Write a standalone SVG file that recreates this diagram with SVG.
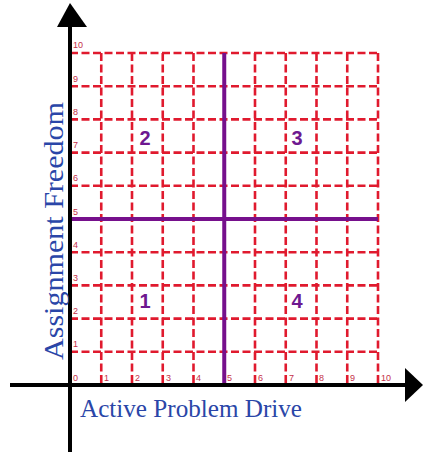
<svg xmlns="http://www.w3.org/2000/svg" width="423" height="452" viewBox="0 0 423 452">
<style>
.grid{stroke:#E01A2E;stroke-width:2.6;stroke-dasharray:8 3.5;fill:none}
.quad{stroke:#76108C;stroke-width:4;fill:none}
.axis{stroke:#000;stroke-width:4;fill:none}
.tick{font-family:"Liberation Sans",Arial,sans-serif;font-size:9px;fill:#C4304A}
.num{font-family:"Liberation Sans",Arial,sans-serif;font-size:20px;font-weight:bold;fill:#6E1890}
.lbl{font-family:"Liberation Serif","Times New Roman",serif;fill:#2A46A8}
</style>
<rect width="423" height="452" fill="#fff"/>
<g id="grid">
<path class="grid" d="M101.25 53V385M132 53V385M162.75 53V385M193.5 53V385M255 53V385M285.75 53V385M316.5 53V385M347.25 53V385M378 53V385"/>
<path class="grid" d="M70 351.8H378M70 318.6H378M70 285.4H378M70 252.2H378M70 185.8H378M70 152.6H378M70 119.4H378M70 86.2H378M70 53H378"/>
</g>
<g id="quadrant-lines">
<path class="quad" d="M224.25 53V385M70 219H378"/>
</g>
<g id="tick-labels">
<text class="tick" x="73" y="381">0</text>
<text class="tick" x="104" y="381">1</text>
<text class="tick" x="135" y="381">2</text>
<text class="tick" x="166" y="381">3</text>
<text class="tick" x="196" y="381">4</text>
<text class="tick" x="227" y="381">5</text>
<text class="tick" x="258" y="381">6</text>
<text class="tick" x="289" y="381">7</text>
<text class="tick" x="319" y="381">8</text>
<text class="tick" x="350" y="381">9</text>
<text class="tick" x="381" y="381">10</text>
<text class="tick" x="73" y="347">1</text>
<text class="tick" x="73" y="314">2</text>
<text class="tick" x="73" y="281">3</text>
<text class="tick" x="73" y="248">4</text>
<text class="tick" x="73" y="215">5</text>
<text class="tick" x="73" y="181">6</text>
<text class="tick" x="73" y="148">7</text>
<text class="tick" x="73" y="115">8</text>
<text class="tick" x="73" y="82">9</text>
<text class="tick" x="73" y="48">10</text>
</g>
<g id="axes">
<path class="axis" d="M10 385H407M70 24V452"/>
<polygon points="405,368 423,385 405,402" fill="#000"/>
<polygon points="70,3 57,27 87,27" fill="#000"/>
</g>
<g id="q1"><text class="num" x="145" y="308" text-anchor="middle">1</text></g>
<g id="q2"><text class="num" x="145" y="145" text-anchor="middle">2</text></g>
<g id="q3"><text class="num" x="297" y="145" text-anchor="middle">3</text></g>
<g id="q4"><text class="num" x="297" y="308" text-anchor="middle">4</text></g>
<g id="x-label"><text class="lbl" x="80" y="417" font-size="26" textLength="222" lengthAdjust="spacingAndGlyphs">Active Problem Drive</text></g>
<g id="y-label"><text class="lbl" transform="translate(63,360) rotate(-90)" x="0" y="0" font-size="28" textLength="258" lengthAdjust="spacingAndGlyphs">Assignment Freedom</text></g>
</svg>
